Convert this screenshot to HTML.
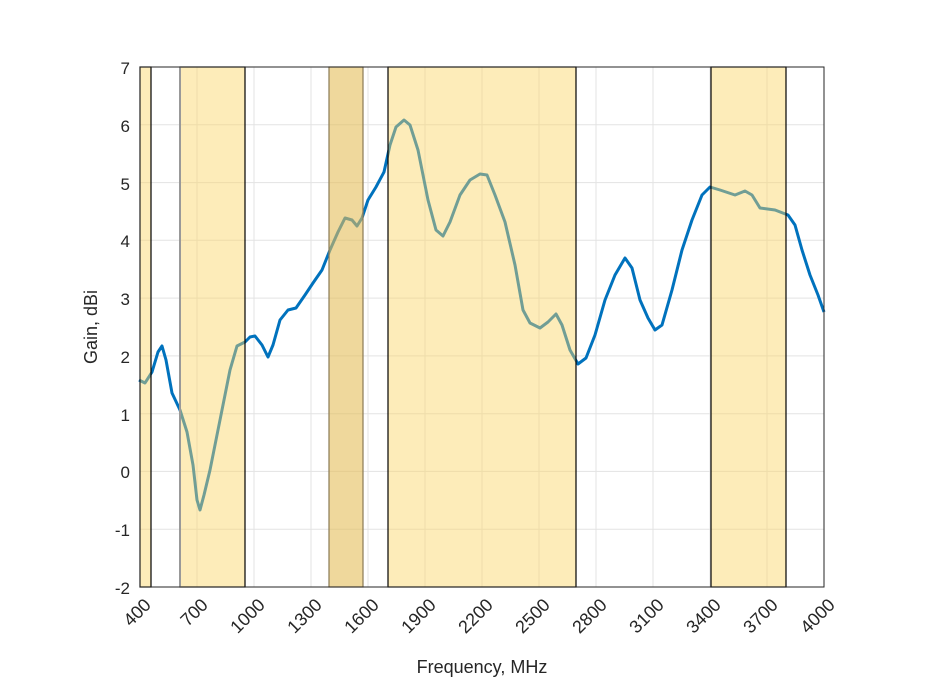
<!DOCTYPE html>
<html><head><style>body{margin:0;background:#fff}svg{display:block}</style></head><body>
<svg width="933" height="700" viewBox="0 0 933 700" xmlns="http://www.w3.org/2000/svg" font-family="Liberation Sans, sans-serif" font-size="17" fill="#262626">
<rect x="140" y="67" width="684" height="520" fill="#fff"/>
<g stroke="#e3e3e3" stroke-width="1">
<line x1="197" y1="67" x2="197" y2="587"/><line x1="254" y1="67" x2="254" y2="587"/><line x1="311" y1="67" x2="311" y2="587"/><line x1="368" y1="67" x2="368" y2="587"/><line x1="425" y1="67" x2="425" y2="587"/><line x1="482" y1="67" x2="482" y2="587"/><line x1="539" y1="67" x2="539" y2="587"/><line x1="596" y1="67" x2="596" y2="587"/><line x1="653" y1="67" x2="653" y2="587"/><line x1="710" y1="67" x2="710" y2="587"/><line x1="767" y1="67" x2="767" y2="587"/>
<line x1="140" y1="124.8" x2="824" y2="124.8"/><line x1="140" y1="182.6" x2="824" y2="182.6"/><line x1="140" y1="240.3" x2="824" y2="240.3"/><line x1="140" y1="298.1" x2="824" y2="298.1"/><line x1="140" y1="355.9" x2="824" y2="355.9"/><line x1="140" y1="413.7" x2="824" y2="413.7"/><line x1="140" y1="471.4" x2="824" y2="471.4"/><line x1="140" y1="529.2" x2="824" y2="529.2"/>
</g>
<polyline fill="none" stroke="#0072bd" stroke-width="3" stroke-linejoin="round" points="139,380 145,383 152,372 158,352 162,346 166,360 172,393 180,410 187,432 193,465 197,500 200,510 204,495 210,470 220,420 230,370 237,346 245,342 250,337 255,336 262,345 268,357 273,345 280,320 288,310 296,308 305,295 313,283 322,270 330,250 338,232 345,218 352,220 357,226 362,218 368,200 376,187 384,172 390,145 396,127 404,120 410,125 418,150 428,200 436,230 443,236 450,222 460,195 470,180 480,174 487,175 495,195 505,222 515,265 523,310 530,323 540,328 548,322 556,314 562,325 570,350 578,364 586,358 595,335 605,300 615,275 625,258 632,268 640,300 648,318 655,330 662,325 672,290 682,250 692,220 702,195 710,187 720,190 735,195 745,191 752,195 760,208 775,210 788,215 795,225 802,250 810,275 818,295 824,312"/>
<g fill="rgb(250,212,100)" fill-opacity="0.45">
<rect x="140" y="67" width="11" height="520" stroke="#000" stroke-width="1.2"/>
<rect x="180" y="67" width="65" height="520" stroke="#000" stroke-width="1.2"/>
<rect x="329" y="67" width="34" height="520" fill="rgb(228,190,90)" fill-opacity="0.6" stroke="#8a7a55" stroke-width="1.2"/>
<rect x="388" y="67" width="188" height="520" stroke="#000" stroke-width="1.2"/>
<rect x="711" y="67" width="75" height="520" stroke="#000" stroke-width="1.2"/>
</g>
<line x1="180" y1="67" x2="180" y2="587" stroke="#999" stroke-width="2"/>
<rect x="140" y="67" width="684" height="520" fill="none" stroke="#262626" stroke-width="1"/>
<g text-anchor="end">
<text x="130" y="74">7</text><text x="130" y="132">6</text><text x="130" y="190">5</text><text x="130" y="247">4</text><text x="130" y="305">3</text><text x="130" y="363">2</text><text x="130" y="421">1</text><text x="130" y="478">0</text><text x="130" y="536">-1</text><text x="130" y="594">-2</text>
</g>
<g text-anchor="end" font-size="18">
<text transform="translate(152,606) rotate(-45)">400</text>
<text transform="translate(209,606) rotate(-45)">700</text>
<text transform="translate(266,606) rotate(-45)">1000</text>
<text transform="translate(323,606) rotate(-45)">1300</text>
<text transform="translate(380,606) rotate(-45)">1600</text>
<text transform="translate(437,606) rotate(-45)">1900</text>
<text transform="translate(494,606) rotate(-45)">2200</text>
<text transform="translate(551,606) rotate(-45)">2500</text>
<text transform="translate(608,606) rotate(-45)">2800</text>
<text transform="translate(665,606) rotate(-45)">3100</text>
<text transform="translate(722,606) rotate(-45)">3400</text>
<text transform="translate(779,606) rotate(-45)">3700</text>
<text transform="translate(836,606) rotate(-45)">4000</text>
</g>
<text x="482" y="673" text-anchor="middle" font-size="18">Frequency, MHz</text>
<text transform="translate(97,327) rotate(-90)" text-anchor="middle" font-size="18">Gain, dBi</text>
</svg>
</body></html>
